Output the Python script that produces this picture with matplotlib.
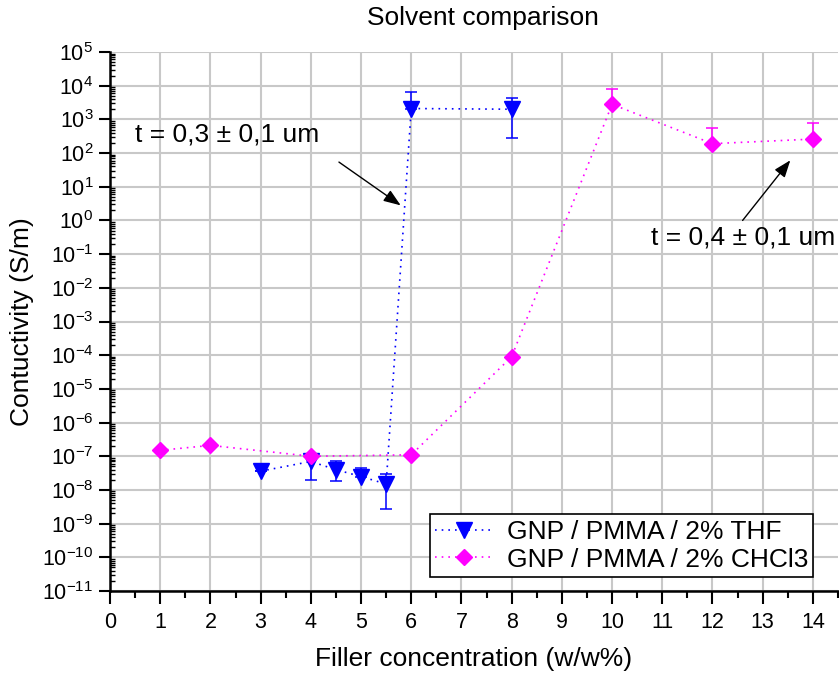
import matplotlib
matplotlib.use("Agg")
import matplotlib.pyplot as plt
from matplotlib.ticker import LogLocator, FixedLocator, NullFormatter, FuncFormatter
import numpy as np

plt.rcParams['font.family'] = ['Liberation Sans', 'DejaVu Sans']
plt.rcParams['mathtext.fontset'] = 'custom'
plt.rcParams['mathtext.rm'] = 'Liberation Sans'
plt.rcParams['mathtext.it'] = 'Liberation Sans'
plt.rcParams['mathtext.default'] = 'regular'

# THF series
thf_x = [3, 4, 4.5, 5, 5.5, 6, 8]
thf_y = [3.6e-8, 7e-8, 4e-8, 2.5e-8, 1.5e-8, 2.1e3, 2.0e3]
thf_err_low = [3.6e-8, 2e-8, 1.9e-8, 2.5e-8, 2.7e-9, 2.1e3, 2.8e2]
thf_err_high = [3.6e-8, 1.2e-7, 7e-8, 4.6e-8, 3e-8, 6.5e3, 4.3e3]

# CHCl3 series
chcl_x = [1, 2, 4, 6, 8, 10, 12, 14]
chcl_y = [1.5e-7, 2.1e-7, 1.0e-7, 1.1e-7, 9e-5, 2.8e3, 1.9e2, 2.6e2]
chcl_err_high = [1.5e-7, 2.1e-7, 1.2e-7, 1.1e-7, 9e-5, 8e3, 5.5e2, 7.8e2]

x_ticks = list(range(0, 15))
title = "Solvent comparison"
xlabel = "Filler concentration (w/w%)"
ylabel = "Contuctivity (S/m)"
label_thf = "GNP / PMMA / 2% THF"
label_chcl = "GNP / PMMA / 2% CHCl3"
note1 = "t = 0,3 ± 0,1 um"
note2 = "t = 0,4 ± 0,1 um"

fig = plt.figure(figsize=(8.39, 6.74), dpi=100)
ax = fig.add_axes([110/839, 1-591/674, 728/839, 539/674])

blue = '#0000ff'
mag = '#ff00ff'

thf_y_arr = np.array(thf_y)
yerr_thf = [thf_y_arr - np.array(thf_err_low), np.array(thf_err_high) - thf_y_arr]
chcl_y_arr = np.array(chcl_y)
yerr_chcl = [np.zeros(len(chcl_y)), np.array(chcl_err_high) - chcl_y_arr]

ax.errorbar(thf_x, thf_y, yerr=yerr_thf, fmt='none', ecolor=blue, elinewidth=1.1,
            capsize=4, capthick=1.1, zorder=3)
ax.plot(thf_x, thf_y, linestyle=(0, (1, 3)), color=blue, lw=1.2, marker='v',
        markersize=11.5, markerfacecolor=blue, markeredgecolor=blue, label=label_thf, zorder=4)

ax.errorbar(chcl_x, chcl_y, yerr=yerr_chcl, fmt='none', ecolor=mag, elinewidth=1.1,
            capsize=4, capthick=1.1, zorder=3)
ax.plot(chcl_x, chcl_y, linestyle=(0, (1, 3)), color=mag, lw=1.2, marker='D',
        markersize=8.5, markerfacecolor=mag, markeredgecolor=mag, label=label_chcl, zorder=5)

ax.set_yscale('log')
ax.set_ylim(1e-11, 1e5)
ax.set_xlim(0, 14.5)

ax.xaxis.set_major_locator(FixedLocator(x_ticks))
ax.xaxis.set_minor_locator(FixedLocator([v + 0.5 for v in x_ticks]))
ax.yaxis.set_major_locator(LogLocator(base=10, numticks=30))
ax.yaxis.set_minor_locator(LogLocator(base=10, subs=np.arange(2, 10), numticks=30))
ax.yaxis.set_minor_formatter(NullFormatter())
ax.yaxis.set_major_formatter(FuncFormatter(lambda v, p: r'$10^{%d}$' % int(round(np.log10(v)))))

ax.tick_params(axis='x', which='major', direction='out', length=9, width=1.5, labelsize=15.5, pad=6)
ax.tick_params(axis='x', which='minor', direction='out', length=5, width=1.5)
ax.tick_params(axis='y', which='major', direction='out', length=8, width=1.5, labelsize=15.5, pad=4)
ax.tick_params(axis='y', which='minor', direction='in', length=3.5, width=1)

for s in ['top', 'right']:
    ax.spines[s].set_visible(False)
for s in ['left', 'bottom']:
    ax.spines[s].set_linewidth(1.8)

ax.grid(True, which='major', color='#c8c8c8', linewidth=1.5)
ax.set_axisbelow(True)

ax.set_xlabel(xlabel, fontsize=19, labelpad=10)
ax.set_ylabel(ylabel, fontsize=19, labelpad=6)
fig.text(483/839, 1-18/674, title, fontsize=19, ha='center', va='center')

arrow_style = dict(arrowstyle='-|>,head_length=0.8,head_width=0.3', color='black',
                   lw=1, mutation_scale=13, shrinkA=0, shrinkB=0)
ax.annotate("", xy=(5.79, 2.8), xytext=(4.56, 54), arrowprops=arrow_style)
ax.text(2.33, 350, note1, fontsize=19, ha='center', va='center')
ax.annotate("", xy=(13.55, 61), xytext=(12.6, 1.0), arrowprops=arrow_style)
ax.text(14.44, 0.32, note2, fontsize=19, ha='right', va='center')

leg = ax.legend(loc='lower right', bbox_to_anchor=(0.966, 0.026), fontsize=19,
                frameon=True, fancybox=False, edgecolor='black', framealpha=1,
                borderpad=0.2, labelspacing=0.15, handlelength=2.2, handletextpad=0.5,
                borderaxespad=0)
leg.get_frame().set_linewidth(1.2)

fig.savefig('out.png', dpi=100)
